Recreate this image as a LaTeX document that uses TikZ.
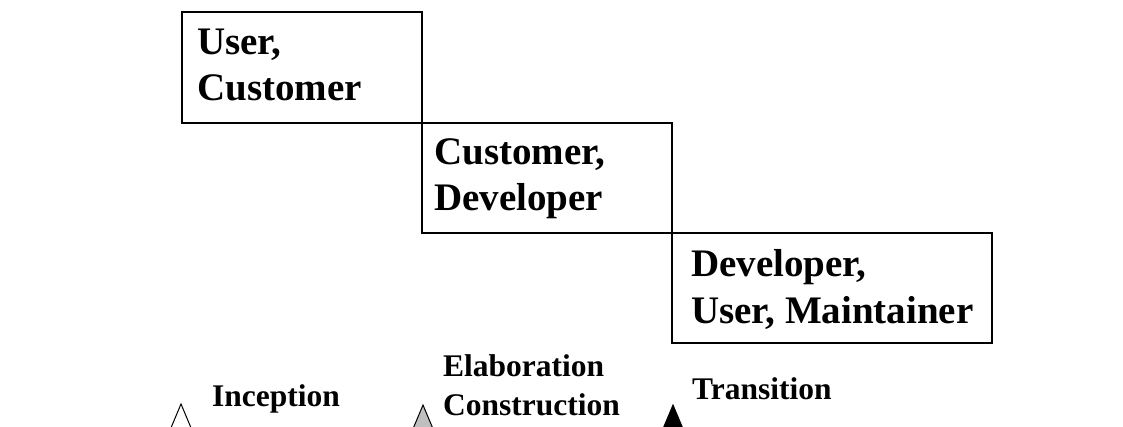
\documentclass[tikz,border=0pt]{standalone}
\usepackage{fontspec}
\setmainfont{Liberation Serif}
\usetikzlibrary{positioning,calc}
\tikzset{
	role box/.style={draw,line width=1.4pt,inner sep=0pt,outer sep=0pt,anchor=north west},
	role/.style={anchor=base west,inner sep=0pt,align=left,
		font=\fontsize{39}{46}\selectfont\bfseries},
	phase/.style={anchor=base west,inner sep=0pt,align=left,
		font=\fontsize{31.5}{39}\selectfont\bfseries},
	milestone/.style={draw,line width=1pt,line join=miter}
}
\begin{document}
\begin{tikzpicture}[x=1pt,y=-1pt]
	\clip (0,0) rectangle (1123,427);
	% the three stairs
	\node[role box, minimum width=240, minimum height=111] (usr) at (182,12) {};
	\node[role box, minimum width=250, minimum height=110, at=(usr.south east)] (dev) {};
	\node[role box, minimum width=320, minimum height=110, at=(dev.south east)] (mnt) {};
	% base is the last line here
	\node[role] (usrtxt) at ($(usr.north west)+(15,89)$) {User,\\Customer};
	\node[role] (devtxt) at ($(dev.north west)+(12,88)$) {Customer,\\Developer};
	\node[role] (mnttxt) at ($(mnt.north west)+(19,90)$) {Developer,\\User, Maintainer};
	% phases
	\node[phase] (ince) at (212,406) {Inception};
	\node[phase] (elab) at (443,415) {Elaboration\\Construction};
	\node[phase] (tran) at (692,399) {Transition};
	\coordinate (incetop) at (181,404);
	\coordinate (elabtop) at (423,405);
	\coordinate (trantop) at (673,405);
	\draw[milestone] (incetop) -- +(-12.6,30) -- +(12.6,30) -- cycle;
	\draw[milestone,fill=lightgray] (elabtop) -- +(-12.6,30) -- +(12.6,30) -- cycle;
	\draw[milestone,fill=black] (trantop) -- +(-12.6,30) -- +(12.6,30) -- cycle;
\end{tikzpicture}
\end{document}
